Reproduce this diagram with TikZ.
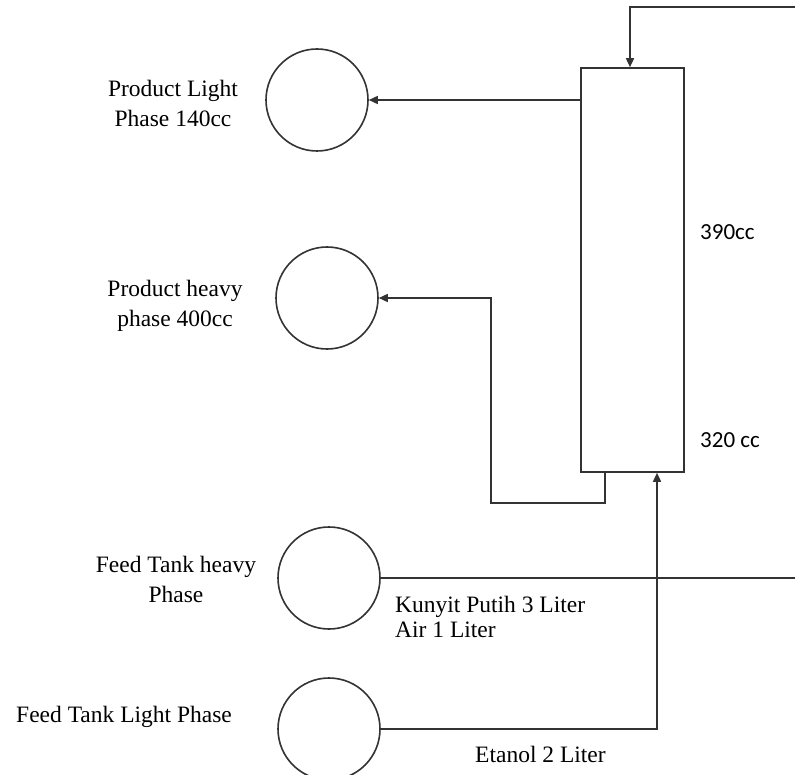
\documentclass[tikz,border=0pt]{standalone}
\usepackage{fontspec}
\setmainfont{Liberation Serif}
\newfontfamily\calib{Carlito}
\usetikzlibrary{arrows.meta}
\begin{document}
\begin{tikzpicture}[x=1pt,y=-1pt,
  line/.style={draw=black!80,line width=1.6pt},
  arr/.style={line,-{Triangle[length=9pt,width=8pt]}},
  tank/.style={circle,line,minimum size=102pt,inner sep=0pt},
  lbl/.style={font=\fontsize{23.5}{30}\selectfont,align=center,inner sep=0pt,anchor=base},
  cclbl/.style={font=\calib\fontsize{23}{27}\selectfont,inner sep=0pt,anchor=base west}]
\clip (0,0) rectangle (795,775);
\useasboundingbox (0,0) rectangle (795,775);
% column
\node[line,rectangle,minimum width=103pt,minimum height=404pt,inner sep=0pt] (col) at (632.5,270) {};
% tanks
\node[tank] (PL) at (317,100) {};
\node[tank] (PH) at (327,298) {};
\node[tank] (FH) at (329,578) {};
\node[tank] (FL) at (329,729) {};
% coordinates
\coordinate (tr) at (795,7);
\coordinate (ret) at (491,503);
\coordinate (fhend) at (795,578);
% connectors
\draw[arr] (tr) -| ([xshift=-2.5pt]col.north);
\draw[arr] (col.west |- PL) -- (PL);
\draw[arr] ([xshift=-27.5pt]col.south) |- (ret) |- (PH);
\draw[line] (FH) -- (fhend);
\draw[arr] (FL) -| ([xshift=24.5pt]col.south);
% labels
\node[lbl] (tPL) at (173,127) {Product Light\\Phase 140cc};
\node[lbl] (tPH) at (175,327) {Product heavy\\phase 400cc};
\node[lbl] (tFH) at (176,602) {Feed Tank heavy\\Phase};
\node[lbl,anchor=base west] (tFL) at (16,722) {Feed Tank Light Phase};
\node[lbl,anchor=base west,font=\fontsize{23.5}{25}\selectfont,align=left] (tK) at (395,637) {Kunyit Putih 3 Liter\\Air 1 Liter};
\node[lbl,anchor=base west] (tE) at (475,762) {Etanol 2 Liter};
\node[cclbl] (t390) at (700,240) {390cc};
\node[cclbl] (t320) at (700,447) {320 cc};
\end{tikzpicture}
\end{document}
